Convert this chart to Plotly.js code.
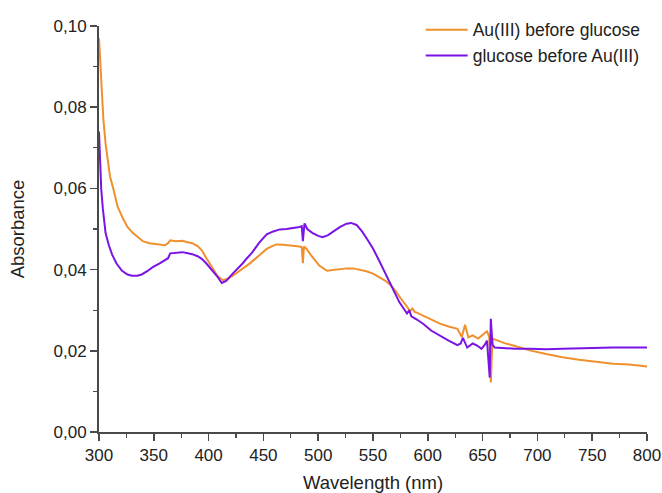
<!DOCTYPE html>
<html>
<head>
<meta charset="utf-8">
<script src="https://cdn.plot.ly/plotly-3.0.1.min.js"></script>
<style>html,body{margin:0;padding:0;background:#fff;}#chart{width:662px;height:493px;}</style>
</head>
<body>
<div id="chart"></div>
<script>
const seriesNames = ["Au(III) before glucose", "glucose before Au(III)"];

const auFirstX = [300,301,302.5,304,306,308,310,313,317,322,326,331,335,340,346,354,360,363,365,370,376,380,385,390,394,398,403,408,413,418,422,430,438,446,453,458,462,468,474,479,483,485,486,487,489,495,501,508,514,520,526,532,538,544,550,556,561,566,571,575,580,584,586,588,590,596,603,611,619,627,631,634,637,641,646,650,654,656,657.5,659,663,670,678,685,693,708,723,738,754,769,784,792,800];
const auFirstY = [0.097,0.091,0.083,0.077,0.071,0.067,0.063,0.060,0.0555,0.0525,0.0505,0.049,0.048,0.047,0.0465,0.0462,0.046,0.0465,0.0472,0.047,0.0471,0.0468,0.0465,0.0458,0.0447,0.0428,0.0405,0.0385,0.0374,0.0378,0.0385,0.04,0.0416,0.0435,0.0451,0.0458,0.0462,0.0461,0.046,0.0458,0.0457,0.0455,0.0416,0.0457,0.0452,0.043,0.041,0.0397,0.0399,0.0401,0.0403,0.0403,0.04,0.0396,0.039,0.0381,0.0373,0.0362,0.0346,0.033,0.0312,0.0298,0.0304,0.0296,0.0294,0.0286,0.0276,0.0267,0.026,0.0254,0.0234,0.0264,0.0233,0.0238,0.023,0.024,0.0248,0.0235,0.0122,0.023,0.0226,0.0219,0.0213,0.0207,0.0201,0.0192,0.0184,0.0178,0.0172,0.0168,0.0166,0.0163,0.0161];

const glucoseFirstX = [300,301,302,303.5,306,309,312,316,321,326,330,335,339,344,349,355,360,363,365,370,376,380,385,390,394,398,403,408,412,416,422,428,431,435,440,446,453,459,465,471,477,483,485,486,487.5,490,495,500,504,509,514,520,526,530,535,540,544,550,556,562,568,574,579,581,583,585,590,596,603,611,619,627,630,632,636,641,645,649,652,654,655.5,656.5,657.5,659,661,670,680,693,708,723,738,754,769,784,800];
const glucoseFirstY = [0.074,0.066,0.06,0.055,0.049,0.046,0.0437,0.0415,0.0397,0.0388,0.0385,0.0385,0.0388,0.0396,0.0406,0.0415,0.0422,0.0428,0.044,0.0442,0.0443,0.0441,0.0438,0.0433,0.0426,0.0415,0.04,0.0383,0.0367,0.0372,0.039,0.0405,0.0415,0.0428,0.0443,0.0466,0.0487,0.0494,0.0499,0.05,0.0502,0.0505,0.0507,0.047,0.0514,0.05,0.049,0.0483,0.048,0.0485,0.0494,0.0505,0.0513,0.0515,0.051,0.0494,0.0478,0.0452,0.042,0.0388,0.0352,0.032,0.03,0.0292,0.03,0.0285,0.0277,0.0266,0.025,0.0237,0.0225,0.0214,0.0218,0.0232,0.0208,0.0218,0.0213,0.0205,0.0215,0.0225,0.018,0.0134,0.0279,0.0215,0.0208,0.0206,0.0205,0.0205,0.0204,0.0205,0.0206,0.0208,0.0208,0.0208,0.0208];

const xTickVals = [300,350,400,450,500,550,600,650,700,750,800];
const yTickVals = [0,0.02,0.04,0.06,0.08,0.10];

const data = [
  {x: auFirstX, y: auFirstY, name: seriesNames[0], type: 'scatter', mode: 'lines',
   line: {color: '#F0902C', width: 2}},
  {x: glucoseFirstX, y: glucoseFirstY, name: seriesNames[1], type: 'scatter', mode: 'lines',
   line: {color: '#7A14E6', width: 2}}
];

const FAM = 'Liberation Sans, Arial, sans-serif';
const tickFont = {family: FAM, size: 17, color: '#222'};

const layout = {
  width: 662, height: 493,
  margin: {l: 99, r: 15, t: 23, b: 61},
  paper_bgcolor: '#fff', plot_bgcolor: '#fff',
  separators: ',.',
  showlegend: true,
  font: tickFont,
  xaxis: {
    range: [300, 800], tickvals: xTickVals, tickformat: 'd',
    showgrid: false, zeroline: false, showline: true, linecolor: '#4a4a4a', linewidth: 2,
    ticks: 'outside', ticklen: 7, tickwidth: 1.5, tickcolor: '#4a4a4a',
    minor: {dtick: 25, tick0: 300, ticks: 'outside', ticklen: 4, tickwidth: 1.3, tickcolor: '#4a4a4a', showgrid: false},
    tickfont: tickFont,
    title: {text: 'Wavelength (nm)', font: {family: FAM, size: 18.5, color: '#222'}, standoff: 13},
    automargin: false
  },
  yaxis: {
    range: [0, 0.1], tickvals: yTickVals, tickformat: '.2f',
    showgrid: false, zeroline: false, showline: true, linecolor: '#4a4a4a', linewidth: 2,
    ticks: 'outside', ticklen: 7, tickwidth: 1.5, tickcolor: '#4a4a4a',
    minor: {dtick: 0.01, tick0: 0, ticks: 'outside', ticklen: 4, tickwidth: 1.3, tickcolor: '#4a4a4a', showgrid: false},
    tickfont: tickFont,
    title: {text: 'Absorbance', font: {family: FAM, size: 18.5, color: '#222'}, standoff: 24},
    automargin: false
  },
  legend: {
    x: 0.587, y: 1.035, xanchor: 'left', yanchor: 'top',
    bgcolor: 'rgba(0,0,0,0)', borderwidth: 0,
    itemwidth: 42,
    font: {family: FAM, size: 17.5, color: '#222'},
    tracegroupgap: 0
  }
};

Plotly.newPlot('chart', data, layout, {displayModeBar: false, staticPlot: true});
</script>
</body>
</html>
